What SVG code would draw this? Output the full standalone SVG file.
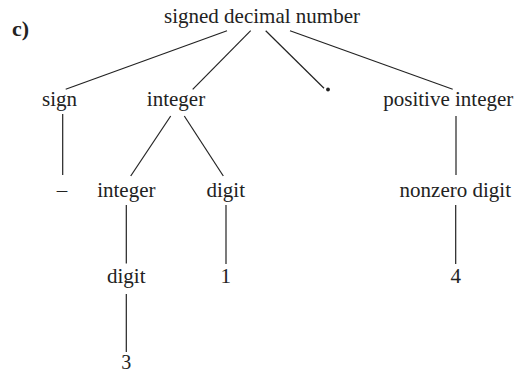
<svg xmlns="http://www.w3.org/2000/svg" width="532" height="374" viewBox="0 0 532 374">
<style>
text{font-family:"Liberation Serif","Times New Roman",serif;font-size:21px;fill:#222;text-anchor:middle}
.lbl{font-weight:bold;text-anchor:start;font-size:22px}
line{stroke:#222;stroke-width:1.2;fill:none}
</style>
<rect width="532" height="374" fill="#fff"/>
<text class="lbl" x="12" y="36">c)</text>
<g id="connectors">
<line x1="227" y1="30.7" x2="65.7" y2="89.3"/>
<line x1="250.7" y1="30.7" x2="192.7" y2="89.3"/>
<line x1="265.7" y1="30.7" x2="324" y2="88.3"/>
<line x1="290" y1="30.7" x2="452.7" y2="89.3"/>
<line x1="62.7" y1="114" x2="62.7" y2="175"/>
<line x1="170.7" y1="116" x2="130.7" y2="176"/>
<line x1="184.3" y1="116" x2="223.3" y2="176"/>
<line x1="456" y1="116" x2="456" y2="175"/>
<line x1="126.3" y1="205" x2="126.3" y2="263.5"/>
<line x1="226" y1="205" x2="226" y2="264"/>
<line x1="455.7" y1="205" x2="455.7" y2="264"/>
<line x1="126.3" y1="294" x2="126.3" y2="352"/>
</g>
<g id="n-root"><text x="262" y="22.5">signed decimal number</text></g>
<g id="n-sign"><text x="59.5" y="105.5">sign</text></g>
<g id="n-integer1"><text x="176" y="105.5">integer</text></g>
<g id="n-point"><circle cx="328" cy="89.5" r="1.9" fill="#222"/></g>
<g id="n-posint"><text x="448.3" y="105.5">positive integer</text></g>
<g id="n-minus"><text x="62" y="196.5">–</text></g>
<g id="n-integer2"><text x="126.3" y="196.5">integer</text></g>
<g id="n-digit1"><text x="225.8" y="196.5">digit</text></g>
<g id="n-nonzero"><text x="455.3" y="196.5">nonzero digit</text></g>
<g id="n-digit2"><text x="126.3" y="283">digit</text></g>
<g id="n-one"><text x="225.8" y="283">1</text></g>
<g id="n-four"><text x="455.7" y="283">4</text></g>
<g id="n-three"><text x="126.3" y="369" style="font-size:20px">3</text></g>
</svg>
